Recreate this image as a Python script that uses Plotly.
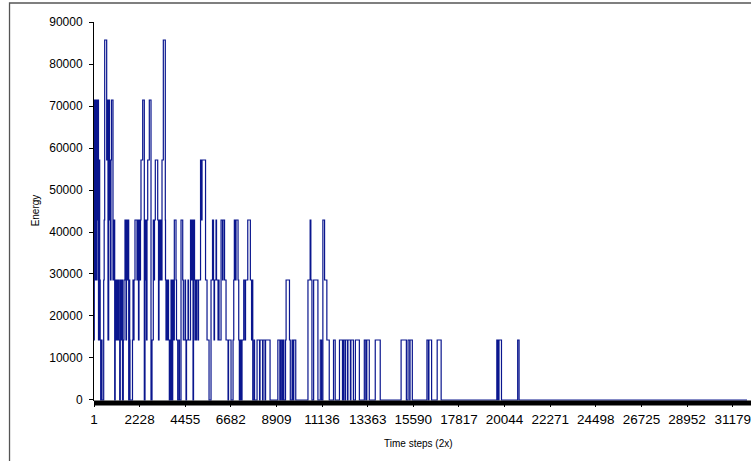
import plotly.graph_objects as go

# Energy levels appearing in the series (multiples of ~14286)
energy_levels = [0, 14286, 28571, 42857, 57143, 71429, 85714]

# Step-wise series: time step where the value changes, and the level index it changes to
change_steps = [
    1, 15, 29, 59, 78, 107, 127, 147, 166, 195, 220, 244, 278, 303, 327, 366, 391, 474, 498, 523,
    620, 645, 684, 718, 757, 781, 806, 830, 855, 928, 977, 1011, 1035, 1074, 1099, 1148, 1172, 1221,
    1255, 1284, 1319, 1343, 1392, 1431, 1465, 1514, 1563, 1587, 1636, 1661, 1695, 1724, 1744, 1758,
    1880, 1905, 1929, 1954, 2002,
    2100, 2124, 2173, 2198, 2247, 2271, 2295, 2378, 2457, 2491, 2505, 2564, 2589, 2623, 2701, 2784,
    2833, 2896, 2930, 2955, 2994, 3111, 3150, 3175, 3223, 3248, 3272, 3321, 3385, 3482, 3492, 3516,
    3565, 3599, 3614, 3639, 3678, 3712, 3736, 3761, 3785, 3810, 3844, 3883, 3922, 4005, 4029, 4088,
    4151, 4176, 4249, 4332, 4362,
    4445, 4469, 4493, 4518, 4591, 4615, 4713, 4762, 4786, 4835, 4860, 4884, 4909, 4933, 4958, 4982,
    5006, 5079, 5104, 5202, 5250, 5275, 5446, 5519, 5617, 5714, 5787, 5836, 5861, 5885, 5958, 5983,
    6056, 6081, 6105, 6203, 6276, 6300, 6374, 6447, 6545, 6569, 6691,
    6789, 6823, 6852, 6901, 6935, 7033, 7067, 7096, 7155, 7180, 7228, 7311, 7375, 7399, 7507, 7634,
    7692, 7717, 7751, 7814, 7839, 7961, 8083, 8107, 8229, 8254, 8351, 8376, 8596,
    8976, 9073, 9107, 9170, 9219, 9267, 9350, 9379, 9544, 9583, 9670, 9719, 9753, 9850,
    10446, 10553, 10587, 10640, 10723, 10932,
    11048, 11111, 11174, 11257, 11368, 11485, 11693, 11776,
    11984, 12130, 12179, 12251, 12276, 12373, 12397, 12518, 12542, 12664,
    12761, 12955, 13197, 13270, 13318, 13440, 13731, 13974,
    14993, 15250, 15332, 15415, 15429, 15541,
    16254, 16327, 16351, 16482, 16754, 16948,
    19665, 19724, 19772, 19893, 20684, 20752,
]
change_levels = [
    1, 3, 5, 2, 5, 4, 2, 5, 3, 5, 1, 4, 2, 1, 0, 1, 0, 2, 3, 6,
    4, 5, 1, 5, 3, 4, 2, 4, 5, 2, 3, 0, 2, 1, 2, 1, 2, 1,
    0, 2, 1, 2, 0, 1, 2, 3, 1, 3, 2, 3, 0, 2, 1, 0,
    1, 2, 1, 2, 3,
    2, 3, 1, 3, 2, 3, 4, 5, 0, 2, 3, 1, 3, 4, 5, 0,
    1, 3, 2, 3, 4, 3, 1, 3, 2, 3, 2, 4, 6, 3, 2, 1,
    2, 1, 2, 1, 0, 1, 0, 2, 1, 0, 2, 1, 3, 2, 1, 0,
    1, 0, 3, 2, 1,
    2, 1, 0, 1, 2, 1, 3, 2, 3, 0, 2, 3, 2, 1, 2, 1,
    2, 1, 2, 4, 3, 4, 2, 1, 0, 2, 3, 2, 1, 2, 3, 2,
    1, 2, 1, 3, 2, 3, 2, 1, 0, 1, 0,
    1, 2, 3, 2, 3, 2, 1, 0, 1, 0, 1, 2, 1, 2, 3, 2,
    1, 2, 0, 1, 0, 1, 0, 1, 0, 1, 0, 1, 0,
    1, 0, 1, 0, 1, 0, 1, 2, 1, 0, 1, 0, 1, 0,
    2, 3, 2, 0, 2, 0,
    1, 0, 3, 2, 1, 0, 1, 0,
    1, 0, 1, 0, 1, 0, 1, 0, 1, 0,
    1, 0, 1, 0, 1, 0, 1, 0,
    1, 0, 1, 0, 1, 0,
    1, 0, 1, 0, 1, 0,
    1, 0, 1, 0, 1, 0,
]
n_steps = 33405

x_tick_labels = ["1", "2228", "4455", "6682", "8909", "11136", "13363", "15590", "17817",
                 "20044", "22271", "24498", "26725", "28952", "31179", "33406"]
y_tick_values = [0, 10000, 20000, 30000, 40000, 50000, 60000, 70000, 80000, 90000]

xs = change_steps + [n_steps]
ys = [energy_levels[i] for i in change_levels] + [energy_levels[change_levels[-1]]]

FONT = "Liberation Sans, Arial, sans-serif"

fig = go.Figure()
fig.add_trace(go.Scatter(
    x=xs, y=ys, mode="lines",
    line=dict(shape="hv", color="#0a168e", width=1.2),
    hoverinfo="skip", showlegend=False,
))

W, H = 751, 461
ml, mt, mb = 94, 22, 60
pw, ph = W - ml, H - mt - mb

def px_x(p):
    return (p - ml) / pw

def px_y(p):
    return (H - mb - p) / ph

fig.update_layout(
    width=W, height=H,
    margin=dict(l=ml, r=0, t=mt, b=mb, pad=0),
    paper_bgcolor="white", plot_bgcolor="white",
    font=dict(family=FONT, size=12, color="black"),
    xaxis=dict(
        range=[1, 1 + pw * 48.52],
        tickmode="array",
        tickvals=[int(t) for t in x_tick_labels],
        ticktext=x_tick_labels,
        ticks="outside", ticklen=5, tickcolor="black",
        showgrid=False, zeroline=False, showline=False,
        tickfont=dict(family=FONT, size=13.5, color="black"),
        ticklabeloverflow="allow",
        ticklabelstandoff=1,
    ),
    yaxis=dict(
        range=[-240, 90000],
        tickmode="array",
        tickvals=y_tick_values,
        ticktext=[str(v) for v in y_tick_values],
        ticks="outside", ticklen=4, tickcolor="black",
        showgrid=False, zeroline=False,
        showline=True, linecolor="black", linewidth=1,
        tickfont=dict(family=FONT, size=12, color="black"),
        ticklabelstandoff=4,
    ),
    shapes=[
        # dense category tick band beneath the axis
        dict(type="rect", xref="paper", yref="paper",
             x0=0, x1=1.2, y0=px_y(405.5), y1=px_y(400.5),
             fillcolor="black", line=dict(width=0), layer="above"),
        # chart area border
        dict(type="rect", xref="paper", yref="paper",
             x0=px_x(9), x1=1.3, y0=px_y(480), y1=px_y(3),
             fillcolor="rgba(0,0,0,0)", line=dict(color="#555555", width=1.3), layer="above"),
    ],
    annotations=[
        dict(text="Time steps (2x)", xref="paper", yref="paper",
             x=px_x(420), y=px_y(443), xanchor="center", yanchor="middle", showarrow=False,
             font=dict(family=FONT, size=10, color="black")),
        dict(text="Energy", xref="paper", yref="paper",
             x=px_x(35), y=px_y(210), xanchor="center", yanchor="middle",
             showarrow=False, textangle=-90,
             font=dict(family=FONT, size=10, color="black")),
    ],
)

fig.write_html(
    "out.html",
    config={"displayModeBar": False},
    post_script="document.body.style.margin='0';document.body.style.overflow='hidden';",
)
